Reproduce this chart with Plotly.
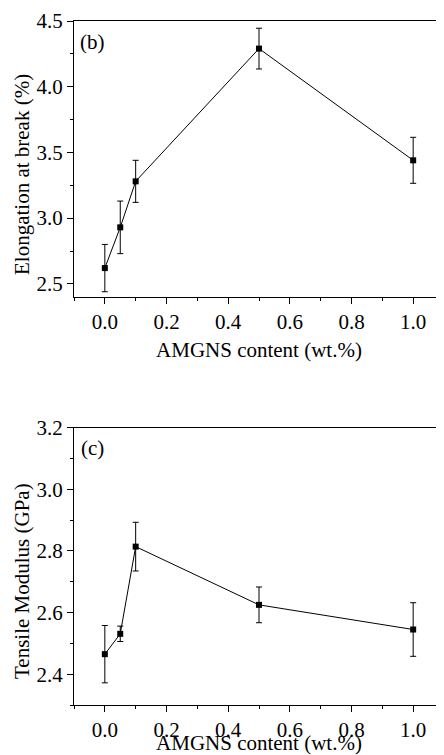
import plotly.graph_objects as go

# Data
content = [0.0, 0.05, 0.1, 0.5, 1.0]
elongation = [2.62, 2.93, 3.28, 4.29, 3.44]
elongation_err = [0.18, 0.20, 0.16, 0.155, 0.175]
modulus = [2.465, 2.531, 2.814, 2.625, 2.545]
modulus_err = [0.093, 0.025, 0.079, 0.058, 0.087]

x_title = "AMGNS content (wt.%)"
y_title_b = "Elongation at break (%)"
y_title_c = "Tensile Modulus (GPa)"

FONT = "Liberation Serif"
FS = 21
OFF = 8  # page body margin
W, H = 444 - OFF, 755 - OFF

def px(xp):
    return (xp - OFF) / W

def py(yp):
    return 1 - (yp - OFF) / H

fig = go.Figure()

def add_series(x, y, err, xa, ya):
    fig.add_trace(go.Scatter(
        x=x, y=y, xaxis=xa, yaxis=ya, mode="lines+markers",
        line=dict(color="black", width=1),
        marker=dict(symbol="square", size=6, color="black"),
        error_y=dict(type="data", array=err, visible=True, color="black",
                     thickness=1, width=3),
        showlegend=False, hoverinfo="skip"))

add_series(content, elongation, elongation_err, "x", "y")
add_series(content, modulus, modulus_err, "x2", "y2")

top_dom = [py(297), py(21)]
bot_dom = [py(705), py(427.7)]
xdom = [px(74), 1.0]

def xaxis_cfg(anchor, standoff):
    return dict(
        domain=xdom, range=[-0.1, 1.1], anchor=anchor,
        showline=True, linecolor="black", linewidth=1.3, mirror=True,
        ticks="outside", ticklen=6, tickwidth=1, tickcolor="black",
        tickvals=[0.0, 0.2, 0.4, 0.6, 0.8, 1.0],
        ticktext=["0.0", "0.2", "0.4", "0.6", "0.8", "1.0"],
        minor=dict(dtick=0.1, tick0=0, ticks="outside", ticklen=3,
                   tickcolor="black", tickwidth=1, showgrid=False),
        showgrid=False, zeroline=False, automargin=False,
        tickfont=dict(family=FONT, size=FS, color="black"),
        title=dict(text=x_title, font=dict(family=FONT, size=FS, color="black"),
                   standoff=standoff),
    )

def top_ticks_cfg(over, anchor):
    return dict(
        domain=xdom, range=[-0.1, 1.1], overlaying=over, side="top",
        anchor=anchor, showline=False, ticks="inside", ticklen=3,
        tickwidth=1, tickcolor="black", dtick=0.1, tick0=0,
        showticklabels=False, showgrid=False, zeroline=False,
        automargin=False,
    )

def yaxis_cfg(dom, rng, mdtick, anchor, tickvals):
    return dict(
        domain=dom, range=rng, anchor=anchor,
        showline=True, linecolor="black", linewidth=1.3,
        ticks="outside", ticklen=6, tickwidth=1, tickcolor="black",
        tickvals=tickvals, ticktext=[f"{v:.1f}" for v in tickvals],
        minor=dict(dtick=mdtick, tick0=0, ticks="outside", ticklen=3,
                   tickcolor="black", tickwidth=1, showgrid=False),
        showgrid=False, zeroline=False, automargin=False,
        tickfont=dict(family=FONT, size=FS, color="black"),
    )

fig.update_layout(
    template="none",
    width=W, height=H,
    margin=dict(l=0, r=0, t=0, b=0),
    paper_bgcolor="white", plot_bgcolor="white",
    xaxis=xaxis_cfg("y", 8),
    yaxis=yaxis_cfg(top_dom, [2.4, 4.5], 0.25, "x",
                    [2.5, 3.0, 3.5, 4.0, 4.5]),
    xaxis2=xaxis_cfg("y2", 0),
    yaxis2=yaxis_cfg(bot_dom, [2.3, 3.2], 0.1, "x2",
                     [2.4, 2.6, 2.8, 3.0, 3.2]),
    xaxis3=top_ticks_cfg("x", "y"),
    xaxis4=top_ticks_cfg("x2", "y2"),
    annotations=[
        dict(text=y_title_b, x=px(22), y=py(175), xref="paper", yref="paper",
             xanchor="center", yanchor="middle",
             textangle=-90, showarrow=False,
             font=dict(family=FONT, size=FS, color="black")),
        dict(text=y_title_c, x=px(22), y=py(581), xref="paper", yref="paper",
             xanchor="center", yanchor="middle",
             textangle=-90, showarrow=False,
             font=dict(family=FONT, size=FS, color="black")),
        dict(text="(b)", x=px(78), y=py(42), xref="paper", yref="paper",
             xanchor="left", yanchor="middle", showarrow=False,
             font=dict(family=FONT, size=FS, color="black")),
        dict(text="(c)", x=px(79), y=py(448), xref="paper", yref="paper",
             xanchor="left", yanchor="middle", showarrow=False,
             font=dict(family=FONT, size=FS, color="black")),
    ],
)

fig.write_html("out.html")
